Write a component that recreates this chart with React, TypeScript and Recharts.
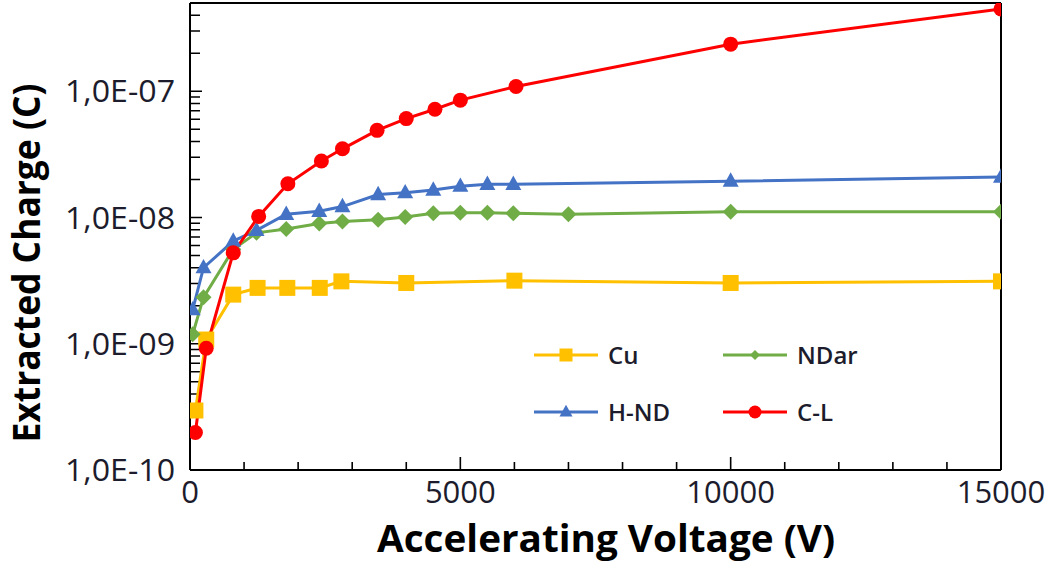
import React from 'react';
import { ComposedChart, Line, XAxis, YAxis, Label } from 'recharts';

// ---- Data ----
const cuVoltage = [100, 300, 800, 1250, 1800, 2400, 2800, 4000, 6000, 10000, 15000];
const cuCharge = [2.96e-10, 1.08e-9, 2.45e-9, 2.77e-9, 2.77e-9, 2.77e-9, 3.12e-9, 3.03e-9, 3.16e-9, 3.03e-9, 3.12e-9];

const ndarVoltage = [50, 250, 800, 1230, 1780, 2390, 2820, 3480, 3980, 4500, 5000, 5500, 5980, 7000, 10000, 15000];
const ndarCharge = [1.19e-9, 2.33e-9, 5.6e-9, 7.56e-9, 8.1e-9, 8.95e-9, 9.3e-9, 9.6e-9, 1.01e-8, 1.08e-8, 1.09e-8, 1.09e-8, 1.08e-8, 1.06e-8, 1.11e-8, 1.11e-8];

const hndVoltage = [50, 250, 800, 1230, 1780, 2390, 2820, 3480, 3980, 4500, 5000, 5500, 5980, 10000, 15000];
const hndCharge = [1.86e-9, 4.0e-9, 6.5e-9, 7.9e-9, 1.06e-8, 1.12e-8, 1.22e-8, 1.52e-8, 1.57e-8, 1.65e-8, 1.77e-8, 1.83e-8, 1.83e-8, 1.94e-8, 2.09e-8];

const clVoltage = [100, 300, 800, 1270, 1810, 2430, 2820, 3460, 4000, 4530, 5000, 6030, 10000, 15000];
const clCharge = [1.98e-10, 9.2e-10, 5.25e-9, 1.02e-8, 1.85e-8, 2.8e-8, 3.5e-8, 4.9e-8, 6.07e-8, 7.2e-8, 8.5e-8, 1.09e-7, 2.36e-7, 4.48e-7];

const seriesNames = ['Cu', 'NDar', 'H-ND', 'C-L'];
const seriesColors = ['#FFC000', '#70AD47', '#4472C4', '#FF0000'];

const xTicks = [0, 1000, 2000, 3000, 4000, 5000, 6000, 7000, 8000, 9000, 10000, 11000, 12000, 13000, 14000, 15000];
const xLabelTicks = [0, 5000, 10000, 15000];

const yDecades = [-10, -9, -8, -7];
const yMantissas = [1, 2, 3, 4, 5, 6, 7, 8, 9];
const yLabelTicks = [1e-10, 1e-9, 1e-8, 1e-7];
const yLabelTexts = ['1,0E-10', '1,0E-09', '1,0E-08', '1,0E-07'];
const yMin = 1e-10;
const yMax = 5e-7;
const xMax = 15000;

const yTicks: number[] = [];
yDecades.forEach((d) => yMantissas.forEach((m) => {
  const v = Number((m * Math.pow(10, d)).toPrecision(3));
  if (v <= yMax) yTicks.push(v);
}));

const zip = (xs: number[], ys: number[]) => xs.map((v, i) => ({ v, q: ys[i] }));
const cuData = zip(cuVoltage, cuCharge);
const ndarData = zip(ndarVoltage, ndarCharge);
const hndData = zip(hndVoltage, hndCharge);
const clData = zip(clVoltage, clCharge);

// ---- Layout ----
const W = 1049;
const H = 562;
const M = { top: 2, right: 47, bottom: 32, left: 10 };
const Y_AXIS_W = 180;
const X_AXIS_H = 60;
const plotW = W - M.left - M.right - Y_AXIS_W - 1;
const plotH = H - M.top - M.bottom - X_AXIS_H - 1;
const pxPerDecade = plotH / Math.log10(yMax / yMin);
const voltsPerPx = xMax / plotW;

const isMajorY = (q: number) => yLabelTicks.some((t) => Math.abs(Math.log10(t) - Math.log10(q)) < 1e-6);

// inward tick marks (lengths in px, converted to axis units so they go through the scales)
const xTickMarkData: any[] = [];
xTicks.filter((v) => v > 0 && v < xMax).forEach((v) => {
  const len = xLabelTicks.includes(v) ? 13 : 8;
  xTickMarkData.push({ v, q: yMin });
  xTickMarkData.push({ v, q: yMin * Math.pow(10, len / pxPerDecade) });
  xTickMarkData.push({ v, q: null });
});
const yTickMarkData: any[] = [];
yTicks.filter((q) => q > yMin).forEach((q) => {
  const len = isMajorY(q) ? 12 : 10;
  yTickMarkData.push({ v: 0, q });
  yTickMarkData.push({ v: len * voltsPerPx, q });
  yTickMarkData.push({ v: 0, q: null });
});

const FONT = '"Open Sans", "DejaVu Sans", sans-serif';
const TEXT_COLOR = '#1c1c2c';

// ---- Marker shapes ----
const Square = ({ cx, cy, size, color }: any) => (
  <rect x={cx - size / 2} y={cy - size / 2} width={size} height={size} fill={color} />
);
const Circle = ({ cx, cy, size, color }: any) => <circle cx={cx} cy={cy} r={size / 2} fill={color} />;
const Triangle = ({ cx, cy, size, color }: any) => (
  <polygon
    points={`${cx},${cy - size * 0.55} ${cx + size / 2},${cy + size * 0.35} ${cx - size / 2},${cy + size * 0.35}`}
    fill={color}
  />
);
const Diamond = ({ cx, cy, size, color }: any) => (
  <polygon
    points={`${cx},${cy - size / 2} ${cx + size / 2},${cy} ${cx},${cy + size / 2} ${cx - size / 2},${cy}`}
    fill={color}
  />
);
const shapes = [Square, Diamond, Triangle, Circle];
const dotSizes = [16, 16, 16, 15];
const legendSizes = [13, 10, 13, 13];

const makeDot = (idx: number) => (props: any) => {
  const S = shapes[idx];
  if (props.cx == null || props.cy == null) return <g key={`d${idx}-${props.index}`} />;
  return (
    <g key={`d${idx}-${props.index}`}>
      <S cx={props.cx} cy={props.cy} size={dotSizes[idx]} color={seriesColors[idx]} />
    </g>
  );
};

const YTick = (props: any) => {
  const { x, y, payload } = props;
  const v = Number(payload.value);
  const li = yLabelTicks.findIndex((t) => Math.abs(Math.log10(t) - Math.log10(v)) < 1e-6);
  const px = Number(x);
  const py = Number(y);
  if (li < 0) return <g />;
  return (
    <text x={px - 15} y={py} dy="0.36em" textAnchor="end" fontFamily={FONT} fontSize={31} fill={TEXT_COLOR}
      textLength={110} lengthAdjust="spacingAndGlyphs">
      {yLabelTexts[li]}
    </text>
  );
};

const XTick = (props: any) => {
  const { x, y, payload } = props;
  const v = Number(payload.value);
  const major = xLabelTicks.includes(v);
  const px = Number(x);
  const py = Number(y);
  if (!major) return <g />;
  return (
    <text x={px} y={py + 33} textAnchor="middle" fontFamily={FONT} fontSize={31} fill={TEXT_COLOR}>
      {String(v)}
    </text>
  );
};

const legendPos = [
  { left: 533, top: 345 },
  { left: 722, top: 345 },
  { left: 533, top: 402 },
  { left: 722, top: 402 },
];

const LegendOverlay = () => (
  <div style={{ position: 'absolute', left: 0, top: 0, width: W, height: H, pointerEvents: 'none' }}>
    {seriesNames.map((name, i) => {
      const S = shapes[i];
      return (
        <div key={name} style={{ position: 'absolute', left: legendPos[i].left, top: legendPos[i].top, display: 'flex', alignItems: 'center', height: 20 }}>
          <svg width={66} height={20} style={{ display: 'block' }}>
            <line x1={1} x2={65} y1={10} y2={10} stroke={seriesColors[i]} strokeWidth={3} />
            <S cx={33} cy={10} size={legendSizes[i]} color={seriesColors[i]} />
          </svg>
          <span style={{ fontFamily: FONT, fontWeight: 600, fontSize: 24, color: TEXT_COLOR, marginLeft: 9, lineHeight: '20px' }}>{name}</span>
        </div>
      );
    })}
  </div>
);

const axisLineStyle = { stroke: '#000', strokeWidth: 2 };

export default function App() {
  return (
    <div style={{ position: 'absolute', left: 0, top: 0, width: W, height: H, background: '#fff' }}>
      <ComposedChart width={W} height={H} margin={M}>
        <XAxis
          xAxisId={0}
          orientation="bottom"
          type="number"
          dataKey="v"
          domain={[0, xMax]}
          ticks={xTicks}
          interval={0}
          allowDataOverflow
          axisLine={axisLineStyle}
          tickLine={false}
          tickSize={0}
          tickMargin={0}
          height={X_AXIS_H}
          tick={<XTick />}
        >
          <Label
            content={() => (
              <text x={606} y={552} textAnchor="middle" fontFamily={FONT} fontWeight={700} fontSize={37} fill="#000"
                textLength={458} lengthAdjust="spacingAndGlyphs">
                Accelerating Voltage (V)
              </text>
            )}
          />
        </XAxis>
        <XAxis
          xAxisId={1}
          orientation="top"
          type="number"
          domain={[0, xMax]}
          allowDataOverflow
          axisLine={axisLineStyle}
          tickLine={false}
          tick={false}
          height={1}
        />
        <YAxis
          yAxisId={0}
          orientation="left"
          type="number"
          scale="log"
          domain={[yMin, yMax]}
          ticks={yTicks}
          interval={0}
          allowDataOverflow
          axisLine={axisLineStyle}
          tickLine={false}
          tickSize={0}
          tickMargin={0}
          width={Y_AXIS_W}
          tick={<YTick />}
        >
          <Label
            content={() => (
              <text transform="translate(40,263) rotate(-90)" x={0} y={0} textAnchor="middle" fontFamily={FONT}
                fontWeight={700} fontSize={37} fill="#000" textLength={359} lengthAdjust="spacingAndGlyphs">
                Extracted Charge (C)
              </text>
            )}
          />
        </YAxis>
        <YAxis
          yAxisId={1}
          orientation="right"
          type="number"
          scale="log"
          domain={[yMin, yMax]}
          allowDataOverflow
          axisLine={axisLineStyle}
          tickLine={false}
          tick={false}
          width={1}
        />
        <Line data={xTickMarkData} dataKey="q" stroke="#000" strokeWidth={1.6} dot={false} activeDot={false}
          isAnimationActive={false} type="linear" legendType="none" connectNulls={false} />
        <Line data={yTickMarkData} dataKey="q" stroke="#000" strokeWidth={1.6} dot={false} activeDot={false}
          isAnimationActive={false} type="linear" legendType="none" connectNulls={false} />
        <Line data={cuData} dataKey="q" name="Cu" stroke={seriesColors[0]} strokeWidth={3} dot={makeDot(0)} activeDot={false} isAnimationActive={false} type="linear" />
        <Line data={ndarData} dataKey="q" name="NDar" stroke={seriesColors[1]} strokeWidth={3} dot={makeDot(1)} activeDot={false} isAnimationActive={false} type="linear" />
        <Line data={hndData} dataKey="q" name="H-ND" stroke={seriesColors[2]} strokeWidth={3} dot={makeDot(2)} activeDot={false} isAnimationActive={false} type="linear" />
        <Line data={clData} dataKey="q" name="C-L" stroke={seriesColors[3]} strokeWidth={3} dot={makeDot(3)} activeDot={false} isAnimationActive={false} type="linear" />
      </ComposedChart>
      <LegendOverlay />
    </div>
  );
}
